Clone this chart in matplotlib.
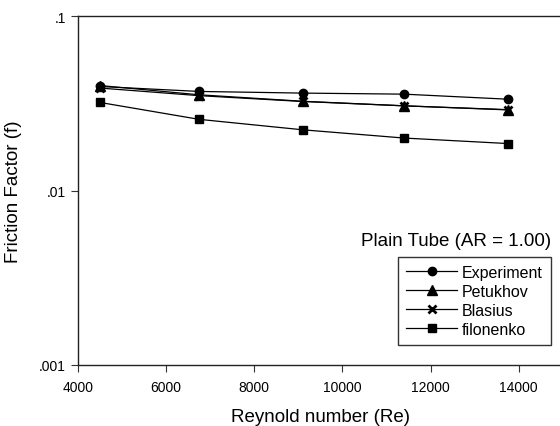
import matplotlib
matplotlib.use("Agg")
import matplotlib.pyplot as plt
from matplotlib.ticker import FixedLocator, FixedFormatter, NullLocator

plt.rcParams['font.family'] = ['Liberation Sans', 'DejaVu Sans']

re_vals = [4500, 6750, 9100, 11400, 13750]
experiment = [0.0395, 0.0370, 0.0362, 0.0357, 0.0334]
petukhov = [0.0400, 0.0354, 0.0325, 0.0306, 0.0290]
blasius = [0.0387, 0.0350, 0.0324, 0.0306, 0.0291]
filonenko = [0.0320, 0.0256, 0.0223, 0.0200, 0.0186]

xticks = [4000, 6000, 8000, 10000, 12000, 14000]
yticks = [0.001, 0.01, 0.1]
ytick_labels = ['.001', '.01', '.1']

fig = plt.figure(figsize=(5.6, 4.27), dpi=100)
ax = fig.add_axes([0.139, 0.1429, 0.866, 0.817])

lw = 0.9
ax.plot(re_vals, experiment, color='black', lw=lw, marker='o', ms=6, label='Experiment')
ax.plot(re_vals, petukhov, color='black', lw=lw, marker='^', ms=6.5, label='Petukhov')
ax.plot(re_vals, blasius, color='black', lw=lw, marker='x', ms=6, mew=2, label='Blasius')
ax.plot(re_vals, filonenko, color='black', lw=lw, marker='s', ms=6, label='filonenko')

ax.set_yscale('log')
ax.set_ylim(0.001, 0.1)
ax.set_xlim(4000, 15000)
ax.yaxis.set_major_locator(FixedLocator(yticks))
ax.yaxis.set_major_formatter(FixedFormatter(ytick_labels))
ax.yaxis.set_minor_locator(NullLocator())
ax.set_xticks(xticks)
ax.set_xticklabels([str(t) for t in xticks])
ax.tick_params(axis='both', direction='out', length=5, width=0.8, labelsize=10, color='#333333')
ax.tick_params(axis='x', pad=6)
for s in ax.spines.values():
    s.set_linewidth(1.0)
    s.set_color('#222222')

ax.set_xlabel('Reynold number (Re)', fontsize=13.5, labelpad=10)
ax.set_ylabel('Friction Factor (f)', fontsize=13.5, labelpad=12)

leg = ax.legend(loc='upper left', bbox_to_anchor=(398/560, 1 - 258/427), bbox_transform=fig.transFigure,
                frameon=True, fancybox=False, edgecolor='black', fontsize=11.5,
                handlelength=3.2, handletextpad=0.3, borderpad=0.5, labelspacing=0.25,
                borderaxespad=0)
leg.get_frame().set_linewidth(1.0)

fig.text(551/560, 1 - 242/427, 'Plain Tube (AR = 1.00)', fontsize=13.5, ha='right', va='center')

fig.savefig('out.png', dpi=100)
